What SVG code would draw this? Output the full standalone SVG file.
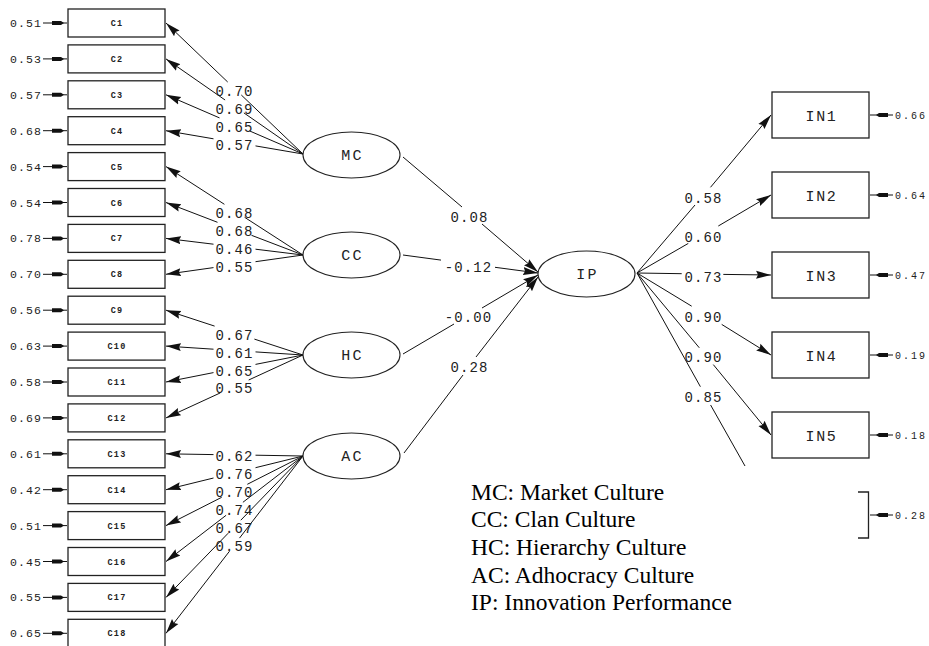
<svg xmlns="http://www.w3.org/2000/svg" xmlns:xlink="http://www.w3.org/1999/xlink" width="929" height="646" viewBox="0 0 929 646">
<style>
  .bx{fill:#fff;stroke:#222;stroke-width:1.3}
  .el{fill:#fff;stroke:#222;stroke-width:1.1}
  .ln{stroke:#111;stroke-width:1;fill:none}
  .ar{stroke:#111;stroke-width:1;fill:none;marker-end:url(#ah)}
  .bl{font-family:"Liberation Mono","DejaVu Sans Mono",monospace;font-size:8.5px;font-weight:bold;letter-spacing:1.2px;fill:#222;text-anchor:middle}
  .nl{font-family:"Liberation Mono","DejaVu Sans Mono",monospace;font-size:15px;letter-spacing:2.3px;fill:#222;text-anchor:middle}
  .il{font-family:"Liberation Mono","DejaVu Sans Mono",monospace;font-size:15px;letter-spacing:1.7px;fill:#222;text-anchor:middle}
  .pl{font-family:"Liberation Mono","DejaVu Sans Mono",monospace;font-size:14px;letter-spacing:1.1px;fill:#222;text-anchor:middle}
  .el1{font-family:"Liberation Mono","DejaVu Sans Mono",monospace;font-size:11.5px;letter-spacing:1.1px;fill:#222}
  .er{font-family:"Liberation Mono","DejaVu Sans Mono",monospace;font-size:10px;letter-spacing:2px;fill:#222}
  .lg{font-family:"Liberation Serif","Times New Roman",serif;font-size:23.5px;fill:#000}
</style>
<defs>
  <marker id="ah" markerUnits="userSpaceOnUse" markerWidth="16" markerHeight="10" refX="15" refY="5" orient="auto">
    <path d="M0,1 L15,5 L0,9 L2,5 z" fill="#111"/>
  </marker>
  <g id="eL"><line x1="43" y1="0" x2="67" y2="0" stroke="#111" stroke-width="1"/><path d="M52,-2 L61,-2 L64,0 L61,2 L52,2 z" fill="#111"/></g>
  <g id="eR"><line x1="870" y1="0" x2="893" y2="0" stroke="#111" stroke-width="1"/><path d="M888,-2 L879,-2 L876,0 L879,2 L888,2 z" fill="#111"/></g>
</defs>
<rect width="929" height="646" fill="#fff"/>

<g id="connectors">
  <!-- MC -->
  <line class="ln" x1="303" y1="154" x2="241.3" y2="95"/><line class="ar" x1="227.7" y1="82" x2="166" y2="23"/>
  <line class="ln" x1="303" y1="154" x2="243.9" y2="112.9"/><line class="ar" x1="225.1" y1="100" x2="166" y2="58.9"/>
  <line class="ln" x1="303" y1="154" x2="249.5" y2="130.9"/><line class="ar" x1="219.5" y1="117.9" x2="166" y2="94.8"/>
  <line class="ln" x1="303" y1="154" x2="255.5" y2="145.9"/><line class="ar" x1="213.5" y1="138.8" x2="166" y2="130.7"/>
  <!-- CC -->
  <line class="ln" x1="303" y1="255" x2="244.6" y2="217.3"/><line class="ar" x1="224.4" y1="204.3" x2="166" y2="166.6"/>
  <line class="ln" x1="303" y1="255" x2="251.5" y2="235.3"/><line class="ar" x1="217.5" y1="222.3" x2="166" y2="202.5"/>
  <line class="ln" x1="303" y1="255" x2="255.5" y2="249.2"/><line class="ar" x1="213.5" y1="244.2" x2="166" y2="238.4"/>
  <line class="ln" x1="303" y1="255" x2="255.5" y2="261.7"/><line class="ar" x1="213.5" y1="267.6" x2="166" y2="274.3"/>
  <!-- HC -->
  <line class="ln" x1="303" y1="355" x2="254.4" y2="339.1"/><line class="ar" x1="214.6" y1="326.1" x2="166" y2="310.2"/>
  <line class="ln" x1="303" y1="355" x2="255.5" y2="351.9"/><line class="ar" x1="213.5" y1="349.2" x2="166" y2="346.1"/>
  <line class="ln" x1="303" y1="355" x2="255.5" y2="364.4"/><line class="ar" x1="213.5" y1="372.6" x2="166" y2="382"/>
  <line class="ln" x1="303" y1="355" x2="248.7" y2="380"/><line class="ar" x1="220.3" y1="392.9" x2="166" y2="417.9"/>
  <!-- AC -->
  <line class="ln" x1="303" y1="456" x2="255.5" y2="455.2"/><line class="ar" x1="213.5" y1="454.6" x2="166" y2="453.8"/>
  <line class="ln" x1="303" y1="456" x2="255.5" y2="467.7"/><line class="ar" x1="213.5" y1="478" x2="166" y2="489.7"/>
  <line class="ln" x1="303" y1="456" x2="247.3" y2="484.3"/><line class="ar" x1="221.7" y1="497.3" x2="166" y2="525.6"/>
  <line class="ln" x1="303" y1="456" x2="242.9" y2="502.3"/><line class="ar" x1="226.1" y1="515.3" x2="166" y2="561.5"/>
  <line class="ln" x1="303" y1="456" x2="240.8" y2="520.2"/><line class="ar" x1="228.2" y1="533.2" x2="166" y2="597.4"/>
  <line class="ln" x1="303" y1="456" x2="239.5" y2="538.1"/><line class="ar" x1="229.5" y1="551.2" x2="166" y2="633.3"/>
  <!-- structural -->
  <line class="ln" x1="403" y1="157" x2="462" y2="207"/><line class="ar" x1="482" y1="224" x2="538" y2="272"/>
  <line class="ln" x1="403" y1="255" x2="441" y2="260.1"/><line class="ar" x1="495" y1="267.3" x2="538" y2="273"/>
  <line class="ln" x1="403" y1="354" x2="454" y2="324"/><line class="ar" x1="482" y1="308" x2="538" y2="275"/>
  <line class="ln" x1="404" y1="453" x2="463" y2="375"/><line class="ar" x1="476" y1="357" x2="538" y2="277"/>
  <!-- IP to indicators -->
  <line class="ln" x1="637" y1="273" x2="695" y2="205"/><line class="ar" x1="710.5" y1="187.3" x2="771" y2="115"/>
  <line class="ln" x1="637" y1="273" x2="688.3" y2="243.4"/><line class="ar" x1="718.3" y1="226" x2="771" y2="195"/>
  <line class="ln" x1="637" y1="273" x2="681.7" y2="273.7"/><line class="ar" x1="723.3" y1="274.4" x2="771" y2="275"/>
  <line class="ln" x1="637" y1="273" x2="691.7" y2="306.2"/><line class="ar" x1="721.7" y1="324.4" x2="771" y2="355"/>
  <line class="ln" x1="637" y1="273" x2="699.3" y2="347.8"/><line class="ar" x1="713.3" y1="364.6" x2="771" y2="435"/>
  <line class="ln" x1="637" y1="273" x2="700.4" y2="386.7"/><line class="ln" x1="710.6" y1="405" x2="745" y2="466"/>
  <!-- path labels -->
  <text class="pl" x="234.5" y="96">0.70</text>
  <text class="pl" x="234.5" y="114">0.69</text>
  <text class="pl" x="234.5" y="132">0.65</text>
  <text class="pl" x="234.5" y="150">0.57</text>
  <text class="pl" x="234.5" y="218">0.68</text>
  <text class="pl" x="234.5" y="236">0.68</text>
  <text class="pl" x="234.5" y="254">0.46</text>
  <text class="pl" x="234.5" y="272">0.55</text>
  <text class="pl" x="234.5" y="340">0.67</text>
  <text class="pl" x="234.5" y="358">0.61</text>
  <text class="pl" x="234.5" y="376">0.65</text>
  <text class="pl" x="234.5" y="393">0.55</text>
  <text class="pl" x="234.5" y="461">0.62</text>
  <text class="pl" x="234.5" y="479">0.76</text>
  <text class="pl" x="234.5" y="497">0.70</text>
  <text class="pl" x="234.5" y="515">0.74</text>
  <text class="pl" x="234.5" y="533">0.67</text>
  <text class="pl" x="234.5" y="551">0.59</text>
  <text class="pl" x="469.5" y="222">0.08</text>
  <text class="pl" x="468.5" y="272">-0.12</text>
  <text class="pl" x="468.5" y="322">-0.00</text>
  <text class="pl" x="469.5" y="372">0.28</text>
  <text class="pl" x="703.5" y="203">0.58</text>
  <text class="pl" x="703.5" y="242">0.60</text>
  <text class="pl" x="703.5" y="282">0.73</text>
  <text class="pl" x="703.5" y="322">0.90</text>
  <text class="pl" x="703.5" y="362">0.90</text>
  <text class="pl" x="703.5" y="402">0.85</text>
</g>

<g id="C1"><rect class="bx" x="68" y="9" width="97" height="28"/><text class="bl" x="117" y="26">C1</text><use href="#eL" y="23"/><text class="el1" x="10" y="27">0.51</text></g>
<g id="C2"><rect class="bx" x="68" y="44.9" width="97" height="28"/><text class="bl" x="117" y="61.9">C2</text><use href="#eL" y="58.9"/><text class="el1" x="10" y="62.9">0.53</text></g>
<g id="C3"><rect class="bx" x="68" y="80.8" width="97" height="28"/><text class="bl" x="117" y="97.8">C3</text><use href="#eL" y="94.8"/><text class="el1" x="10" y="98.8">0.57</text></g>
<g id="C4"><rect class="bx" x="68" y="116.7" width="97" height="28"/><text class="bl" x="117" y="133.7">C4</text><use href="#eL" y="130.7"/><text class="el1" x="10" y="134.7">0.68</text></g>
<g id="C5"><rect class="bx" x="68" y="152.6" width="97" height="28"/><text class="bl" x="117" y="169.6">C5</text><use href="#eL" y="166.6"/><text class="el1" x="10" y="170.6">0.54</text></g>
<g id="C6"><rect class="bx" x="68" y="188.5" width="97" height="28"/><text class="bl" x="117" y="205.5">C6</text><use href="#eL" y="202.5"/><text class="el1" x="10" y="206.5">0.54</text></g>
<g id="C7"><rect class="bx" x="68" y="224.4" width="97" height="28"/><text class="bl" x="117" y="241.4">C7</text><use href="#eL" y="238.4"/><text class="el1" x="10" y="242.4">0.78</text></g>
<g id="C8"><rect class="bx" x="68" y="260.3" width="97" height="28"/><text class="bl" x="117" y="277.3">C8</text><use href="#eL" y="274.3"/><text class="el1" x="10" y="278.3">0.70</text></g>
<g id="C9"><rect class="bx" x="68" y="296.2" width="97" height="28"/><text class="bl" x="117" y="313.2">C9</text><use href="#eL" y="310.2"/><text class="el1" x="10" y="314.2">0.56</text></g>
<g id="C10"><rect class="bx" x="68" y="332.1" width="97" height="28"/><text class="bl" x="117" y="349.1">C10</text><use href="#eL" y="346.1"/><text class="el1" x="10" y="350.1">0.63</text></g>
<g id="C11"><rect class="bx" x="68" y="368" width="97" height="28"/><text class="bl" x="117" y="385">C11</text><use href="#eL" y="382"/><text class="el1" x="10" y="386">0.58</text></g>
<g id="C12"><rect class="bx" x="68" y="403.9" width="97" height="28"/><text class="bl" x="117" y="420.9">C12</text><use href="#eL" y="417.9"/><text class="el1" x="10" y="421.9">0.69</text></g>
<g id="C13"><rect class="bx" x="68" y="439.8" width="97" height="28"/><text class="bl" x="117" y="456.8">C13</text><use href="#eL" y="453.8"/><text class="el1" x="10" y="457.8">0.61</text></g>
<g id="C14"><rect class="bx" x="68" y="475.7" width="97" height="28"/><text class="bl" x="117" y="492.7">C14</text><use href="#eL" y="489.7"/><text class="el1" x="10" y="493.7">0.42</text></g>
<g id="C15"><rect class="bx" x="68" y="511.6" width="97" height="28"/><text class="bl" x="117" y="528.6">C15</text><use href="#eL" y="525.6"/><text class="el1" x="10" y="529.6">0.51</text></g>
<g id="C16"><rect class="bx" x="68" y="547.5" width="97" height="28"/><text class="bl" x="117" y="564.5">C16</text><use href="#eL" y="561.5"/><text class="el1" x="10" y="565.5">0.45</text></g>
<g id="C17"><rect class="bx" x="68" y="583.4" width="97" height="28"/><text class="bl" x="117" y="600.4">C17</text><use href="#eL" y="597.4"/><text class="el1" x="10" y="601.4">0.55</text></g>
<g id="C18"><rect class="bx" x="68" y="619.3" width="97" height="28"/><text class="bl" x="117" y="636.3">C18</text><use href="#eL" y="633.3"/><text class="el1" x="10" y="637.3">0.65</text></g>

<g id="MC"><ellipse class="el" cx="351.5" cy="155" rx="48.5" ry="23"/><text class="nl" x="352.6" y="160">MC</text></g>
<g id="CC"><ellipse class="el" cx="351.5" cy="255" rx="48.5" ry="23"/><text class="nl" x="352.6" y="260">CC</text></g>
<g id="HC"><ellipse class="el" cx="351.5" cy="355" rx="48.5" ry="23"/><text class="nl" x="352.6" y="360">HC</text></g>
<g id="AC"><ellipse class="el" cx="351.5" cy="456" rx="48.5" ry="23"/><text class="nl" x="352.6" y="461">AC</text></g>
<g id="IP"><ellipse class="el" cx="586.5" cy="274" rx="48.5" ry="23"/><text class="nl" x="587.6" y="279">IP</text></g>

<g id="IN1"><rect class="bx" x="772" y="92" width="97" height="46"/><text class="il" x="821.5" y="120.5">IN1</text><use href="#eR" y="115"/><text class="er" x="895" y="118.5">0.66</text></g>
<g id="IN2"><rect class="bx" x="772" y="172" width="97" height="46"/><text class="il" x="821.5" y="200.5">IN2</text><use href="#eR" y="195"/><text class="er" x="895" y="198.5">0.64</text></g>
<g id="IN3"><rect class="bx" x="772" y="252" width="97" height="46"/><text class="il" x="821.5" y="280.5">IN3</text><use href="#eR" y="275"/><text class="er" x="895" y="278.5">0.47</text></g>
<g id="IN4"><rect class="bx" x="772" y="332" width="97" height="46"/><text class="il" x="821.5" y="360.5">IN4</text><use href="#eR" y="355"/><text class="er" x="895" y="358.5">0.19</text></g>
<g id="IN5"><rect class="bx" x="772" y="412" width="97" height="46"/><text class="il" x="821.5" y="440.5">IN5</text><use href="#eR" y="435"/><text class="er" x="895" y="438.5">0.18</text></g>
<g id="IN6"><path d="M858,492 H868.5 V538 H858" fill="none" stroke="#222" stroke-width="1.3"/><use href="#eR" y="515"/><text class="er" x="895" y="518.5">0.28</text></g>

<g id="legend">
  <text class="lg" x="471" y="499.5">MC: Market Culture</text>
  <text class="lg" x="471" y="527.2">CC: Clan Culture</text>
  <text class="lg" x="471" y="554.9">HC: Hierarchy Culture</text>
  <text class="lg" x="471" y="582.6">AC: Adhocracy Culture</text>
  <text class="lg" x="471" y="610.3">IP: Innovation Performance</text>
</g>
</svg>
